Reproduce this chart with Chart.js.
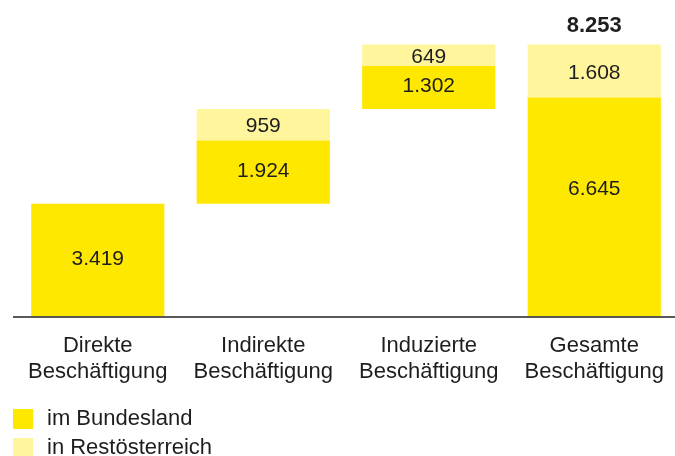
<!DOCTYPE html>
<html>
<head>
<meta charset="utf-8">
<script src="https://cdn.jsdelivr.net/npm/chart.js@4"></script>
<style>
  html, body { margin: 0; padding: 0; background: #fff; overflow: hidden; }
  #wrap { position: relative; width: 677px; height: 456px; }
</style>
</head>
<body>
<div id="wrap"><canvas id="beschChart"></canvas></div>
<script>
// Beschäftigungseffekte – Wasserfall aus Bundesland- und Restösterreich-Anteilen
var categories = [['Direkte', 'Beschäftigung'], ['Indirekte', 'Beschäftigung'], ['Induzierte', 'Beschäftigung'], ['Gesamte', 'Beschäftigung']];
var bundesland = [3419, 1924, 1302, 6645];
var restOesterreich = [0, 959, 649, 1608];
var isTotal = [false, false, false, true];
var totalLabel = '8.253';
var legendLabels = ['im Bundesland', 'in Restösterreich'];

var GELB = '#ffe800';
var HELLGELB = '#fff59d';
var TEXT = '#1e1e1e';
var FONT = '"Liberation Sans", Arial, sans-serif';

function fmt(v){ return v.toLocaleString('de-DE'); }

// Schwebende Balken: Startwert laufend aufsummieren, Gesamt beginnt bei 0
var bundData = [], restData = [];
(function(){
  var run = 0;
  for (var i = 0; i < categories.length; i++) {
    var start = isTotal[i] ? 0 : run;
    var mid = start + bundesland[i];
    var end = mid + restOesterreich[i];
    bundData.push([start, mid]);
    restData.push(restOesterreich[i] ? [mid, end] : null);
    if (!isTotal[i]) run = end;
  }
})();

var drawExtras = {
  id: 'drawExtras',
  afterDatasetsDraw: function(chart){
    var ctx = chart.ctx;
    var x = chart.scales.x, y = chart.scales.y;
    var area = chart.chartArea;
    ctx.save();

    // Werte in den Balken (im hohen Gesamtbalken etwas nach oben gerückt)
    ctx.fillStyle = TEXT;
    ctx.textAlign = 'center';
    ctx.textBaseline = 'middle';
    ctx.font = '21px ' + FONT;
    [[bundData, bundesland, true], [restData, restOesterreich, false]].forEach(function(set){
      set[0].forEach(function(d, i){
        if (!d) return;
        var cy = (y.getPixelForValue(d[0]) + y.getPixelForValue(d[1])) / 2;
        if (set[2] && isTotal[i]) cy -= 17;
        ctx.fillText(fmt(set[1][i]), x.getPixelForValue(i), cy + (set[2] ? -1 : 2));
      });
    });

    // Summe über dem Gesamtbalken
    var last = categories.length - 1;
    ctx.font = 'bold 22px ' + FONT;
    ctx.fillText(totalLabel, x.getPixelForValue(last), y.getPixelForValue(restData[last][1]) - 19);

    // Grundlinie
    ctx.strokeStyle = '#222';
    ctx.lineWidth = 1.5;
    ctx.beginPath();
    ctx.moveTo(13, area.bottom + 0.5);
    ctx.lineTo(chart.width, area.bottom + 0.5);
    ctx.stroke();

    // Kategorien
    ctx.font = '22px ' + FONT;
    categories.forEach(function(lines, i){
      lines.forEach(function(t, k){
        ctx.fillText(t, x.getPixelForValue(i), area.bottom + 29 + k * 26);
      });
    });

    // Legende
    var cols = [GELB, HELLGELB];
    ctx.textAlign = 'left';
    legendLabels.forEach(function(t, k){
      var ly = 409 + k * 29;
      ctx.fillStyle = cols[k];
      ctx.fillRect(13, ly, 20, 20);
      ctx.fillStyle = TEXT;
      ctx.fillText(t, 47, ly + 10);
    });
    ctx.restore();
  }
};

new Chart(document.getElementById('beschChart').getContext('2d'), {
  type: 'bar',
  data: {
    labels: categories,
    datasets: [
      { label: legendLabels[0], data: bundData, backgroundColor: GELB, borderWidth: 0, grouped: false, barPercentage: 0.805, categoryPercentage: 1 },
      { label: legendLabels[1], data: restData, backgroundColor: HELLGELB, borderWidth: 0, grouped: false, barPercentage: 0.805, categoryPercentage: 1 }
    ]
  },
  options: {
    responsive: true,
    maintainAspectRatio: false,
    animation: false,
    layout: { padding: { left: 15, right: 0, top: 20, bottom: 139.5 } },
    scales: {
      x: { display: false, grid: { display: false } },
      y: { display: false, min: 0, max: 9000, grid: { display: false } }
    },
    plugins: {
      legend: { display: false },
      tooltip: { enabled: false }
    }
  },
  plugins: [drawExtras]
});
</script>
</body>
</html>
